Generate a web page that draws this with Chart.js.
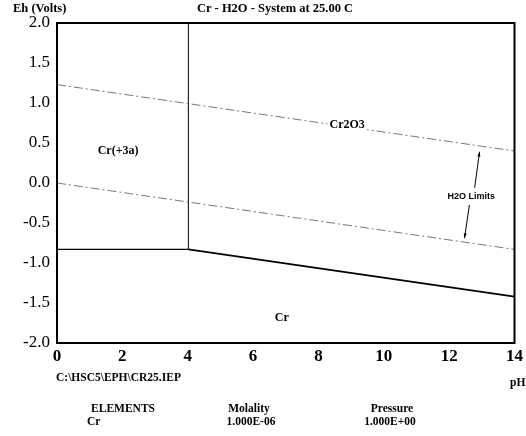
<!DOCTYPE html>
<html><head><meta charset="utf-8">
<script src="https://cdn.jsdelivr.net/npm/chart.js@4/dist/chart.umd.min.js"></script>
<style>html,body{margin:0;padding:0;background:#fff;}#wrap{width:526px;height:436px;position:relative;}</style>
</head><body><div id="wrap"><canvas id="c" width="526" height="436"></canvas></div>
<script>
// pH-range and Eh ticks
const xTicks = [0, 2, 4, 6, 8, 10, 12, 14];
const yTicks = [-2.0, -1.5, -1.0, -0.5, 0.0, 0.5, 1.0, 1.5, 2.0];
// H2O stability limits
const upperH2O_pH = [0, 14];
const upperH2O_Eh = [1.23, 0.40];
const lowerH2O_pH = [0, 14];
const lowerH2O_Eh = [0.0, -0.83];
// phase boundaries
const crIon_Cr_pH = [0, 4.02];
const crIon_Cr_Eh = [-0.83, -0.83];
const cr2o3_Cr_pH = [4.02, 14];
const cr2o3_Cr_Eh = [-0.83, -1.42];
const crIon_cr2o3_pH = [4.02, 4.02];
const crIon_cr2o3_Eh = [-0.83, 2.0];
// region labels
const regionNames = ['Cr(+3a)', 'Cr2O3', 'Cr'];
const regionPH = [1.87, 8.88, 6.88];
const regionEh = [0.40, 0.72, -1.69];
// H2O limits annotation
const h2oLabel = 'H2O Limits';
const h2oLabelPH = [12.68];
const h2oLabelEh = [-0.175];
const h2oArrowUpPH = [12.78, 12.93];
const h2oArrowUpEh = [-0.06, 0.39];
const h2oArrowDnPH = [12.62, 12.47];
const h2oArrowDnEh = [-0.275, -0.69];
// footer
const fileName = 'C:\\HSC5\\EPH\\CR25.IEP';
const tableHead = ['ELEMENTS', 'Molality', 'Pressure'];
const tableRow = ['Cr', '1.000E-06', '1.000E+00'];

const pts = (xs, ys) => xs.map((x, i) => ({x, y: ys[i]}));
const dashStyle = {borderColor: '#555', borderWidth: 0.8, borderDash: [9, 3, 2, 3]};
const solid = (w) => ({borderColor: '#000', borderWidth: w, borderDash: []});

const overlay = {
  id: 'overlay',
  afterDraw(chart) {
    const ctx = chart.ctx, a = chart.chartArea;
    const xs = chart.scales.x, ys = chart.scales.y;
    ctx.save();
    // frame
    ctx.strokeStyle = '#000'; ctx.lineWidth = 2;
    ctx.strokeRect(a.left, a.top, a.right - a.left, a.bottom - a.top);
    ctx.fillStyle = '#000';
    // title & axis names
    ctx.font = 'bold 12.5px "Liberation Serif"';
    ctx.textBaseline = 'middle';
    ctx.textAlign = 'center';
    ctx.fillText('Cr - H2O - System at 25.00 C', 275, 9);
    ctx.textAlign = 'left';
    ctx.fillText('Eh (Volts)', 13, 9);
    // region labels (white backing so boundary lines break around text)
    ctx.font = 'bold 12px "Liberation Serif"';
    ctx.textAlign = 'center';
    regionNames.forEach((n, i) => {
      const px = xs.getPixelForValue(regionPH[i]), py = ys.getPixelForValue(regionEh[i]);
      const w = ctx.measureText(n).width;
      ctx.fillStyle = '#fff';
      ctx.fillRect(px - w / 2 - 2, py - 6, w + 4, 12);
      ctx.fillStyle = '#000';
      ctx.fillText(n, px, py);
    });
    // H2O label
    ctx.font = 'bold 9px "Liberation Sans"';
    ctx.fillText(h2oLabel, xs.getPixelForValue(h2oLabelPH[0]), ys.getPixelForValue(h2oLabelEh[0]));
    const arrow = (px, py) => {
      const x0 = xs.getPixelForValue(px[0]), y0 = ys.getPixelForValue(py[0]);
      const x1 = xs.getPixelForValue(px[1]), y1 = ys.getPixelForValue(py[1]);
      ctx.strokeStyle = '#000'; ctx.lineWidth = 1;
      ctx.beginPath(); ctx.moveTo(x0, y0); ctx.lineTo(x1, y1); ctx.stroke();
      const ang = Math.atan2(y1 - y0, x1 - x0);
      ctx.beginPath();
      ctx.moveTo(x1, y1);
      ctx.lineTo(x1 - 5 * Math.cos(ang - 0.3), y1 - 5 * Math.sin(ang - 0.3));
      ctx.lineTo(x1 - 5 * Math.cos(ang + 0.3), y1 - 5 * Math.sin(ang + 0.3));
      ctx.closePath(); ctx.fill();
    };
    arrow(h2oArrowUpPH, h2oArrowUpEh);
    arrow(h2oArrowDnPH, h2oArrowDnEh);
    // footer
    ctx.font = 'bold 11.5px "Liberation Serif"';
    ctx.textAlign = 'left';
    ctx.fillText(fileName, 56, 378);
    ctx.fillText('pH', 510, 383);
    ctx.textAlign = 'center';
    const cols = [123, 249, 392];
    tableHead.forEach((t, i) => ctx.fillText(t, cols[i], 409));
    ctx.textAlign = 'left';
    ctx.fillText(tableRow[0], 87, 422);
    ctx.textAlign = 'center';
    ctx.fillText(tableRow[1], 251, 422);
    ctx.fillText(tableRow[2], 390, 422);
    ctx.restore();
  }
};

new Chart(document.getElementById('c'), {
  type: 'scatter',
  data: {
    datasets: [
      Object.assign({data: pts(upperH2O_pH, upperH2O_Eh)}, dashStyle),
      Object.assign({data: pts(lowerH2O_pH, lowerH2O_Eh)}, dashStyle),
      Object.assign({data: pts(crIon_Cr_pH, crIon_Cr_Eh)}, solid(1.2)),
      Object.assign({data: pts(cr2o3_Cr_pH, cr2o3_Cr_Eh)}, solid(1.6)),
      Object.assign({data: pts(crIon_cr2o3_pH, crIon_cr2o3_Eh)}, solid(1))
    ].map(d => Object.assign(d, {showLine: true, pointRadius: 0, fill: false, tension: 0}))
  },
  options: {
    responsive: false,
    animation: false,
    devicePixelRatio: 1,
    layout: {padding: {left: 0, top: 23, right: 11, bottom: 0}},
    plugins: {legend: {display: false}, tooltip: {enabled: false}},
    scales: {
      x: {
        type: 'linear', min: 0, max: 14,
        afterBuildTicks: s => { s.ticks = xTicks.map(v => ({value: v})); },
        afterFit: s => { s.height = 93; },
        grid: {display: false, drawTicks: false},
        border: {display: false},
        ticks: {color: '#000', padding: 3, maxRotation: 0, font: {family: 'Liberation Serif', size: 17, weight: 'bold'}}
      },
      y: {
        type: 'linear', min: -2, max: 2,
        afterBuildTicks: s => { s.ticks = yTicks.map(v => ({value: v})); },
        afterFit: s => { s.width = 57; },
        grid: {display: false, drawTicks: false},
        border: {display: false},
        ticks: {color: '#000', padding: 7, font: {family: 'Liberation Serif', size: 17}, callback: v => Number(v).toFixed(1)}
      }
    }
  },
  plugins: [overlay]
});
</script></body></html>
